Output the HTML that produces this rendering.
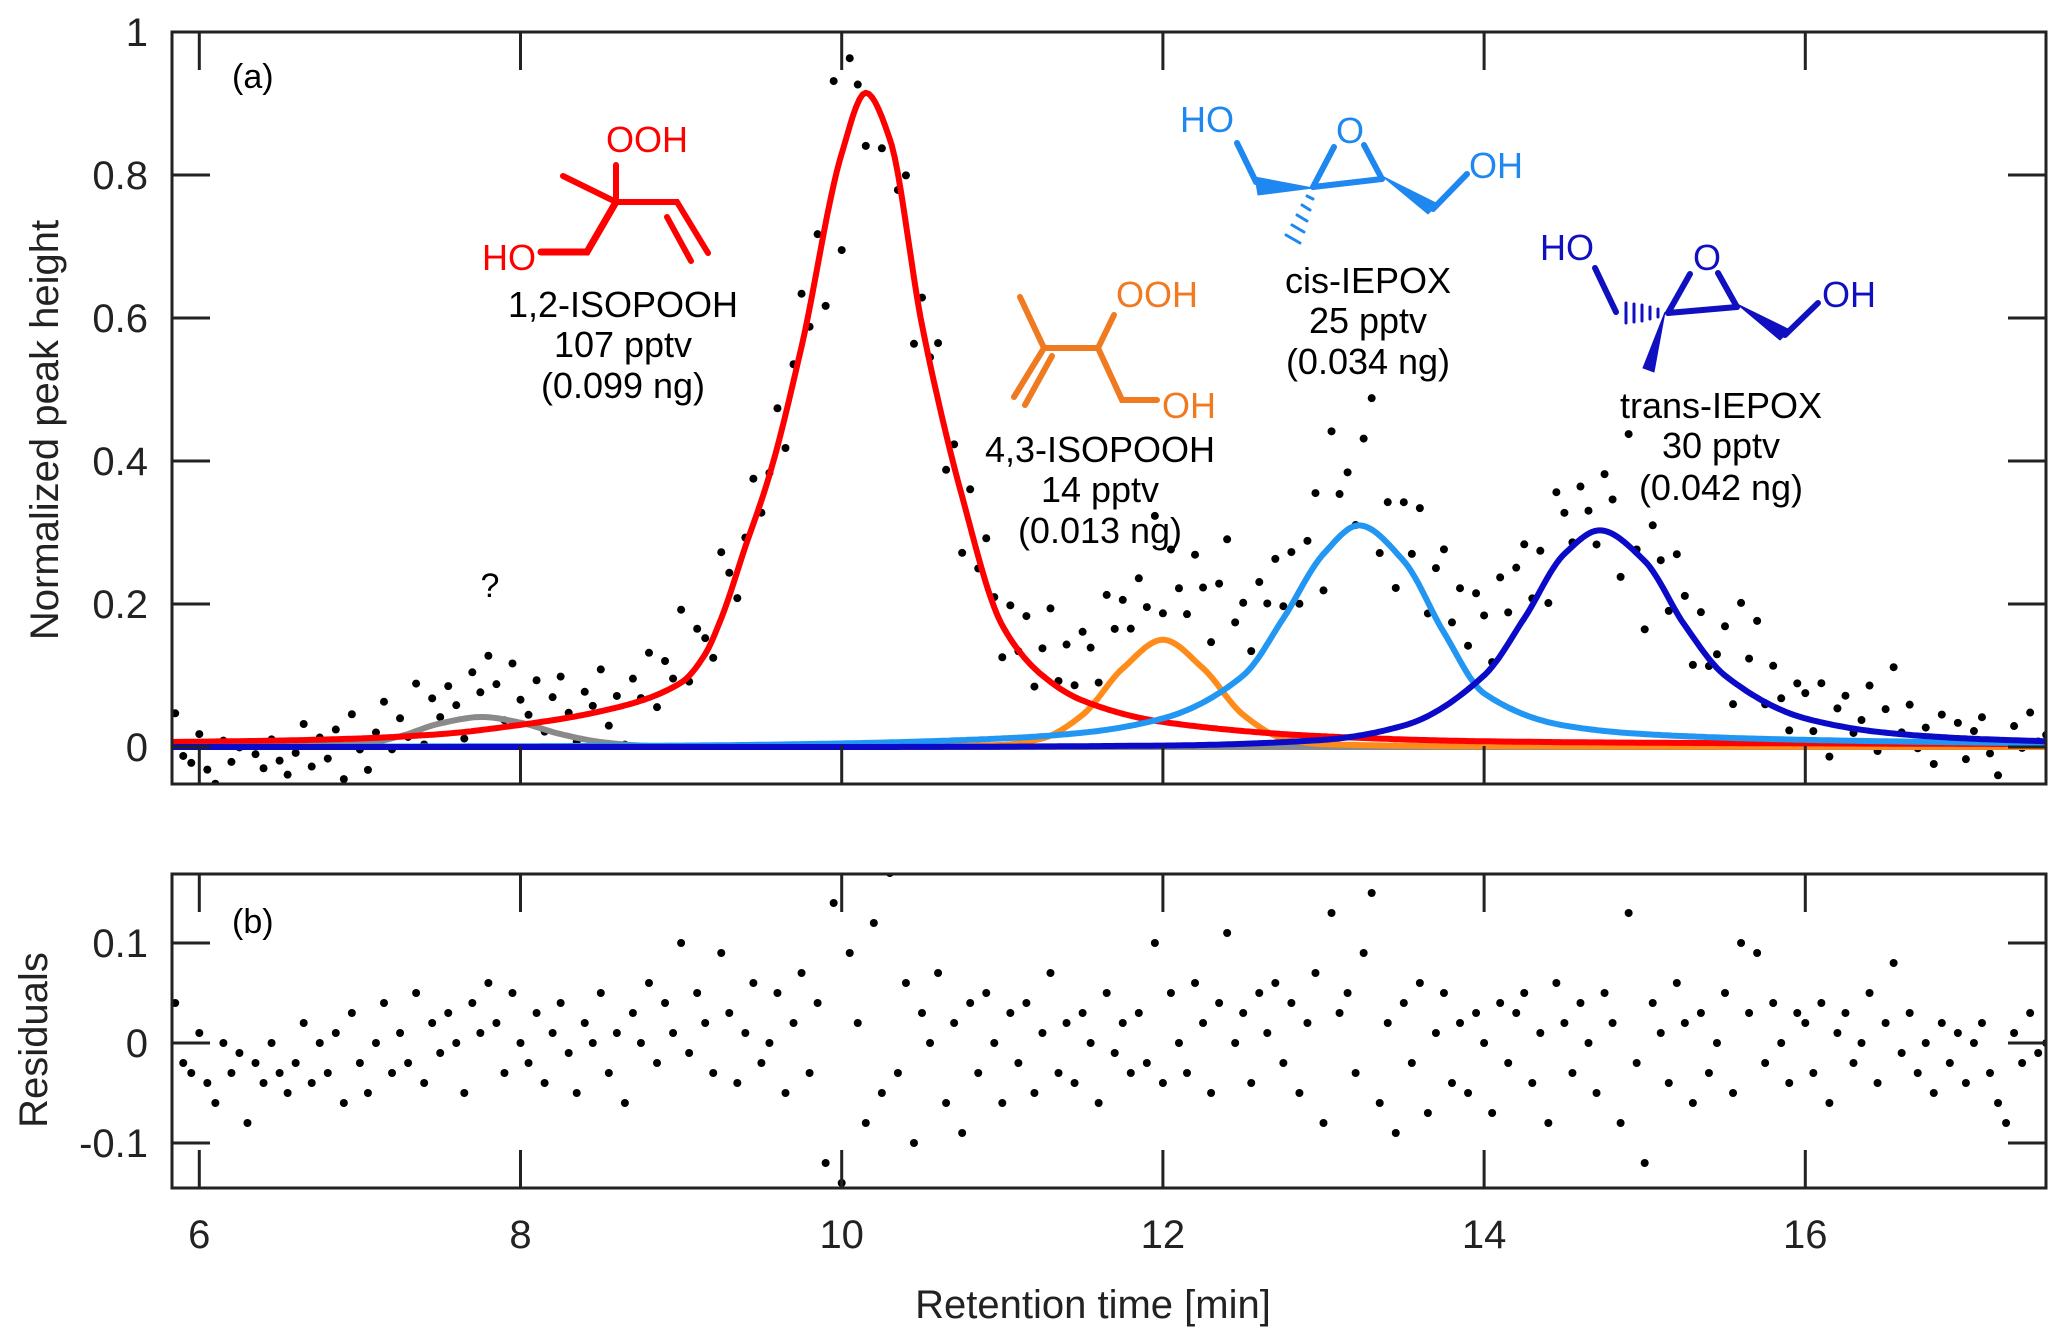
<!DOCTYPE html>
<html><head><meta charset="utf-8">
<style>
html,body{margin:0;padding:0;background:#fff}
svg{display:block}
text{font-family:"Liberation Sans",Arial,sans-serif}
</style></head>
<body>
<svg id="chart" width="2067" height="1340" viewBox="0 0 2067 1340" xmlns="http://www.w3.org/2000/svg">
<defs>
<clipPath id="clipTop"><rect x="172" y="32" width="1874" height="752"/></clipPath>
<clipPath id="clipBot"><rect x="172" y="874" width="1874" height="314"/></clipPath>
</defs>
<g id="topMarks" clip-path="url(#clipTop)"></g>
<g id="botMarks" clip-path="url(#clipBot)"></g>
<g id="axes"></g>

<text x="232" y="88" font-size="34">(a)</text>
<text x="232" y="933" font-size="34">(b)</text>
<text x="490" y="597" font-size="34" text-anchor="middle">?</text>

<g stroke="#ff0000" stroke-width="6" fill="none" stroke-linecap="round">
<polyline points="563,176 616,202 677,202 708,253"/>
<line x1="616" y1="202" x2="616" y2="165"/>
<line x1="667" y1="217" x2="691" y2="261"/>
<polyline points="616,202 587,252 541,252" stroke-width="7"/>
</g>
<text x="606" y="152" font-size="36" fill="#ff0000">OOH</text>
<text x="536" y="270" font-size="36" fill="#ff0000" text-anchor="end">HO</text>
<g font-size="36" text-anchor="middle">
<text x="623" y="317">1,2-ISOPOOH</text><text x="623" y="357">107 pptv</text><text x="623" y="398">(0.099 ng)</text></g>

<g stroke="#f07a20" stroke-width="6" fill="none" stroke-linecap="round">
<polyline points="1020,297 1044,348 1098,348 1114,315"/>
<polyline points="1098,348 1122,400 1157,400" />
<line x1="1044" y1="348" x2="1014" y2="397"/>
<line x1="1052" y1="356" x2="1025" y2="405"/>
</g>
<text x="1116" y="307" font-size="36" fill="#f07a20">OOH</text>
<text x="1162" y="418" font-size="36" fill="#f07a20">OH</text>
<g font-size="36" text-anchor="middle">
<text x="1100" y="462">4,3-ISOPOOH</text><text x="1100" y="502">14 pptv</text><text x="1100" y="543">(0.013 ng)</text></g>

<g stroke="#1e88f0" fill="#1e88f0" stroke-width="6" stroke-linecap="round">
<line x1="1237" y1="143" x2="1256" y2="182"/>
<polygon points="1255,177 1258,195 1313,188" stroke-width="1"/>
<line x1="1313" y1="187" x2="1382" y2="179"/>
<line x1="1313" y1="187" x2="1334" y2="147"/>
<line x1="1382" y1="179" x2="1364" y2="145"/>
<polygon points="1382,176 1428,214 1438,204" stroke-width="1"/>
<line x1="1433" y1="209" x2="1467" y2="174"/>
<g stroke-width="3">
<line x1="1307" y1="196" x2="1313" y2="199"/><line x1="1302" y1="205" x2="1310" y2="210"/><line x1="1297" y1="215" x2="1307" y2="221"/><line x1="1292" y1="225" x2="1304" y2="232"/><line x1="1286" y1="235" x2="1300" y2="243"/></g>
</g>
<text x="1180" y="132" font-size="36" fill="#1e88f0">HO</text>
<text x="1350" y="143" font-size="36" fill="#1e88f0" text-anchor="middle">O</text>
<text x="1469" y="178" font-size="36" fill="#1e88f0">OH</text>
<g font-size="36" text-anchor="middle">
<text x="1368" y="293">cis-IEPOX</text><text x="1368" y="333">25 pptv</text><text x="1368" y="374">(0.034 ng)</text></g>

<g stroke="#1010c0" fill="#1010c0" stroke-width="6" stroke-linecap="round">
<line x1="1595" y1="268" x2="1616" y2="312"/>
<line x1="1668" y1="313" x2="1737" y2="307"/>
<line x1="1668" y1="313" x2="1690" y2="274"/>
<line x1="1737" y1="307" x2="1718" y2="273"/>
<polygon points="1665,312 1643,368 1654,372" stroke-width="1"/>
<polygon points="1737,304 1780,340 1790,330" stroke-width="1"/>
<line x1="1785" y1="335" x2="1818" y2="303"/>
<g stroke-width="3">
<line x1="1626" y1="303" x2="1626" y2="323"/><line x1="1634" y1="304" x2="1634" y2="322"/><line x1="1642" y1="305" x2="1642" y2="321"/><line x1="1650" y1="307" x2="1650" y2="319"/><line x1="1658" y1="309" x2="1658" y2="317"/></g>
</g>
<text x="1540" y="260" font-size="36" fill="#1010c0">HO</text>
<text x="1707" y="270" font-size="36" fill="#1010c0" text-anchor="middle">O</text>
<text x="1822" y="307" font-size="36" fill="#1010c0">OH</text>
<g font-size="36" text-anchor="middle">
<text x="1721" y="418">trans-IEPOX</text><text x="1721" y="458">30 pptv</text><text x="1721" y="500">(0.042 ng)</text></g>

<text x="1093" y="1318" font-size="40" text-anchor="middle" fill="#222">Retention time [min]</text>
<text transform="translate(58,430) rotate(-90)" font-size="40" text-anchor="middle" fill="#222">Normalized peak height</text>
<text transform="translate(47,1040) rotate(-90)" font-size="40" text-anchor="middle" fill="#222">Residuals</text>
</svg>
<script>
const xTicks = [6, 8, 10, 12, 14, 16];
const xTickLabels = ["6", "8", "10", "12", "14", "16"];
const yTicksTop = [0, 0.2, 0.4, 0.6, 0.8, 1];
const yTickLabelsTop = ["0", "0.2", "0.4", "0.6", "0.8", "1"];
const yTicksBot = [-0.1, 0, 0.1];
const yTickLabelsBot = ["-0.1", "0", "0.1"];

const redT = [5.83, 6.5, 7, 7.5, 8, 8.5, 9, 9.15, 9.25, 9.4, 9.55, 9.75, 10, 10.15, 10.3, 10.5, 10.75, 11, 11.25, 11.5, 12, 13, 14, 15, 17.5];
const redV = [0.007, 0.009, 0.012, 0.018, 0.031, 0.05, 0.09, 0.13, 0.18, 0.28, 0.38, 0.56, 0.83, 0.915, 0.85, 0.59, 0.35, 0.17, 0.1, 0.065, 0.035, 0.015, 0.008, 0.006, 0.004];
const orangeT = [5.83, 10, 11, 11.25, 11.5, 11.75, 12, 12.25, 12.5, 12.75, 13, 14, 17.5];
const orangeV = [0, 0, 0.003, 0.012, 0.045, 0.11, 0.15, 0.11, 0.045, 0.012, 0.004, 0.001, 0];
const lblueT = [5.83, 9, 10, 11, 11.5, 12, 12.5, 12.75, 13, 13.22, 13.5, 13.75, 14, 14.5, 15, 16, 17.5];
const lblueV = [0, 0.002, 0.005, 0.012, 0.02, 0.04, 0.1, 0.18, 0.27, 0.31, 0.26, 0.16, 0.075, 0.03, 0.018, 0.01, 0.005];
const dblueT = [5.83, 10, 12, 13, 13.5, 14, 14.25, 14.5, 14.72, 15, 15.25, 15.5, 16, 16.5, 17, 17.5];
const dblueV = [0, 0, 0.002, 0.01, 0.03, 0.1, 0.18, 0.27, 0.303, 0.26, 0.17, 0.1, 0.04, 0.02, 0.012, 0.008];
const grayT = [5.83, 7, 7.25, 7.5, 7.76, 8, 8.25, 8.5, 8.75, 9, 17.5];
const grayV = [0, 0.004, 0.015, 0.033, 0.042, 0.034, 0.018, 0.007, 0.002, 0, 0];

const resStart = 5.85;
const resStep = 0.05;
const residuals = [
0.04,-0.02,-0.03,0.01,-0.04,-0.06,0.0,-0.03,-0.01,-0.08,-0.02,-0.04,0.0,-0.03,-0.05,-0.02,0.02,-0.04,0.0,-0.03,
0.01,-0.06,0.03,-0.02,-0.05,0.0,0.04,-0.03,0.01,-0.02,0.05,-0.04,0.02,-0.01,0.03,0.0,-0.05,0.04,0.01,0.06,
0.02,-0.03,0.05,0.0,-0.02,0.03,-0.04,0.01,0.04,-0.01,-0.05,0.02,0.0,0.05,-0.03,0.01,-0.06,0.03,0.0,0.06,
-0.02,0.04,0.01,0.1,-0.01,0.05,0.02,-0.03,0.09,0.03,-0.04,0.01,0.06,-0.02,0.0,0.05,-0.05,0.02,0.07,-0.03,
0.04,-0.12,0.14,-0.14,0.09,0.02,-0.08,0.12,-0.05,0.17,-0.03,0.06,-0.1,0.03,0.0,0.07,-0.06,0.02,-0.09,0.04,
-0.03,0.05,0.0,-0.06,0.03,-0.02,0.04,-0.05,0.01,0.07,-0.03,0.02,-0.04,0.03,0.0,-0.06,0.05,-0.01,0.02,-0.03,
0.03,-0.02,0.1,-0.04,0.05,0.0,-0.03,0.06,0.02,-0.05,0.04,0.11,0.0,0.03,-0.04,0.05,0.01,0.06,-0.02,0.04,
-0.05,0.02,0.07,-0.08,0.13,0.03,0.05,-0.03,0.09,0.15,-0.06,0.02,-0.09,0.04,-0.02,0.06,-0.07,0.01,0.05,-0.04,
0.02,-0.05,0.03,0.0,-0.07,0.04,-0.02,0.03,0.05,-0.04,0.01,-0.08,0.06,0.02,-0.03,0.04,0.0,-0.05,0.05,0.02,
-0.08,0.13,-0.02,-0.12,0.04,0.01,-0.04,0.06,0.02,-0.06,0.03,-0.03,0.0,0.05,-0.05,0.1,0.03,0.09,-0.02,0.04,
0.0,-0.04,0.03,0.02,-0.03,0.04,-0.06,0.01,0.03,-0.02,0.0,0.05,-0.04,0.02,0.08,-0.01,0.03,-0.03,0.0,-0.05,
0.02,-0.02,0.01,-0.04,0.0,0.02,-0.03,-0.06,-0.08,0.01,-0.02,0.03,-0.01,0.0
];

const PL = 172, PR = 2046;
const T1 = 32, B1 = 784, T2 = 874, B2 = 1188;
const X = t => PL + (t - 5.83) * 160.6;
const Y1 = v => 747 - 715 * v;
const Y2 = r => 1043 - 1000 * r;
const NS = "http://www.w3.org/2000/svg";

// monotone cubic (Fritsch-Carlson) interpolation
function makeMono(ts, vs) {
  const n = ts.length, d = [], m = new Array(n);
  for (let i = 0; i < n - 1; i++) d.push((vs[i+1] - vs[i]) / (ts[i+1] - ts[i]));
  m[0] = d[0]; m[n-1] = d[n-2];
  for (let i = 1; i < n - 1; i++) {
    if (d[i-1] * d[i] <= 0) m[i] = 0;
    else {
      const h0 = ts[i] - ts[i-1], h1 = ts[i+1] - ts[i];
      const w1 = 2*h1 + h0, w2 = h1 + 2*h0;
      m[i] = (w1 + w2) / (w1 / d[i-1] + w2 / d[i]);
    }
  }
  return function (t) {
    if (t <= ts[0]) return vs[0];
    if (t >= ts[n-1]) return vs[n-1];
    let i = 0; while (t > ts[i+1]) i++;
    const h = ts[i+1] - ts[i], s = (t - ts[i]) / h;
    const h00 = 2*s*s*s - 3*s*s + 1, h10 = s*s*s - 2*s*s + s, h01 = -2*s*s*s + 3*s*s, h11 = s*s*s - s*s;
    return h00*vs[i] + h10*h*m[i] + h01*vs[i+1] + h11*h*m[i+1];
  };
}
const fRed = makeMono(redT, redV), fOr = makeMono(orangeT, orangeV), fLb = makeMono(lblueT, lblueV), fDb = makeMono(dblueT, dblueV), fGr = makeMono(grayT, grayV);

const topG = document.getElementById("topMarks");
const botG = document.getElementById("botMarks");
const axesG = document.getElementById("axes");

residuals.forEach((r, i) => {
  const t = resStart + i * resStep;
  const fit = fRed(t) + fOr(t) + fLb(t) + fDb(t) + fGr(t);
  const c = document.createElementNS(NS, "circle");
  c.setAttribute("cx", X(t)); c.setAttribute("cy", Y1(fit + r)); c.setAttribute("r", 4); c.setAttribute("fill", "#000");
  
  
  topG.appendChild(c);
  const c2 = document.createElementNS(NS, "circle");
  c2.setAttribute("cx", X(t)); c2.setAttribute("cy", Y2(r)); c2.setAttribute("r", 4); c2.setAttribute("fill", "#000");
  
  
  botG.appendChild(c2);
});

function curve(f, color, name) {
  let d = "";
  for (let t = 5.83; t <= 17.52; t += 0.02) d += (d ? " L" : "M") + X(t).toFixed(1) + "," + Y1(f(t)).toFixed(1);
  const p = document.createElementNS(NS, "path");
  p.setAttribute("d", d); p.setAttribute("fill", "none");
  p.setAttribute("stroke", color); p.setAttribute("stroke-width", 6); p.setAttribute("stroke-linejoin", "round");
  
  
  topG.appendChild(p);
}
curve(fGr, "#8a8a8a", "unknown-fit-curve");
curve(fOr, "#ff8c1a", "isopooh-43-fit-curve");
curve(fRed, "#ff0000", "isopooh-12-fit-curve");
curve(fLb, "#2196f3", "cis-iepox-fit-curve");
curve(fDb, "#0a0ac8", "trans-iepox-fit-curve");

function line(x1, y1, x2, y2, w, name) {
  const l = document.createElementNS(NS, "line");
  l.setAttribute("x1", x1); l.setAttribute("y1", y1); l.setAttribute("x2", x2); l.setAttribute("y2", y2);
  l.setAttribute("stroke", "#222"); l.setAttribute("stroke-width", w);
  
  
  axesG.appendChild(l);
}
function text(x, y, s, anchor, name) {
  const t = document.createElementNS(NS, "text");
  t.setAttribute("x", x); t.setAttribute("y", y); t.setAttribute("font-size", 40);
  t.setAttribute("text-anchor", anchor); t.setAttribute("fill", "#222"); t.textContent = s;
  
  
  axesG.appendChild(t);
}
[[T1, B1], [T2, B2]].forEach(([tp, bt]) => {
  const r = document.createElementNS(NS, "rect");
  r.setAttribute("x", PL); r.setAttribute("y", tp); r.setAttribute("width", PR - PL); r.setAttribute("height", bt - tp);
  r.setAttribute("fill", "none"); r.setAttribute("stroke", "#222"); r.setAttribute("stroke-width", 3);
  
  
  axesG.appendChild(r);
  xTicks.forEach(t => {
    line(X(t), tp, X(t), tp + 38, 3, "x-tick");
    line(X(t), bt, X(t), bt - 38, 3, "x-tick");
  });
});
xTicks.forEach((t, i) => text(X(t), 1248, xTickLabels[i], "middle", "x-tick-label"));
yTicksTop.forEach((v, i) => {
  line(PL, Y1(v), PL + 38, Y1(v), 3, "y-tick");
  line(PR, Y1(v), PR - 38, Y1(v), 3, "y-tick");
  text(148, Y1(v) + 14, yTickLabelsTop[i], "end", "y-tick-label");
});
yTicksBot.forEach((v, i) => {
  line(PL, Y2(v), PL + 38, Y2(v), 3, "residual-y-tick");
  line(PR, Y2(v), PR - 38, Y2(v), 3, "residual-y-tick");
  text(148, Y2(v) + 14, yTickLabelsBot[i], "end", "residual-y-tick-label");
});
</script>
</body></html>
